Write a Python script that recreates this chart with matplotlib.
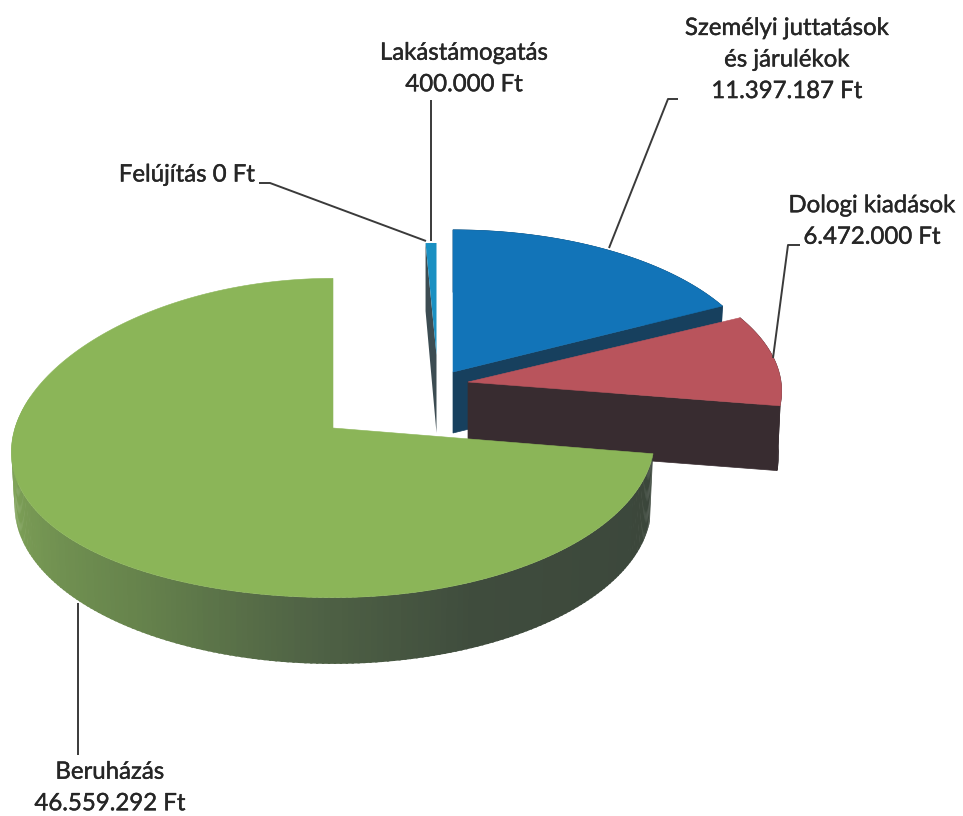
import numpy as np
import matplotlib
matplotlib.use("Agg")
import matplotlib.pyplot as plt
import matplotlib.patheffects as pe
from matplotlib.colors import LinearSegmentedColormap
from matplotlib.patches import Polygon

# ---- data (clockwise from 12 o'clock)
categories = ["Személyi juttatások és járulékok", "Dologi kiadások", "Beruházás", "Felújítás", "Lakástámogatás"]
values = [11397187, 6472000, 46559292, 0, 400000]

# ---- labels
label_texts = ["Személyi juttatások\nés járulékok\n11.397.187 Ft", "Dologi kiadások\n6.472.000 Ft",
               "Beruházás\n46.559.292 Ft", "Felújítás 0 Ft", "Lakástámogatás\n400.000 Ft"]

# ---- style / layout, one row per category
apex = [(453, 372), (468, 382), (333, 428), None, (436.5, 355)]
radii = [(310, 151), (313, 147), (321, 159), None, (300, 119)]
depths = [61, 65, 68, None, 78]
left_sag = [0, 0, 14, None, 0]
top_colors = ["#1274b8", "#b9545c", "#8bb558", None, "#1a90c2"]
side_colors = ["#17405e", "#382c30", None, None, "#3c4c52"]
label_pos = [(787, 60), (872, 221.5), (110, 788), (187, 175), (464, 69)]
leaders = [[(678, 99), (668, 99), (609, 248)], [(800, 245), (788, 245), (773, 358)],
           [(78, 755), (78, 603)], [(259, 183), (270, 183), (426, 241)], [(431, 100), (431, 241)]]
green_side = LinearSegmentedColormap.from_list(
    "g", [(0.0, "#3b463b"), (0.30, "#3f4c3d"), (0.45, "#4f6245"), (0.62, "#66834c"),
          (0.85, "#7c9f56"), (1.0, "#83a859")])
PERSP = 0.0625
BOTTOM_SCALE = 0.99
PT = 24 * 72 / 100

plt.rcParams["font.family"] = ["Lato", "DejaVu Sans"]
fig = plt.figure(figsize=(9.63, 8.16), dpi=100, facecolor="white")
ax = fig.add_axes([0, 0, 1, 1])
ax.set_xlim(0, 963)
ax.set_ylim(816, 0)
ax.axis("off")


def rim(i, theta, bottom=False):
    """Project clock-angle theta (deg) on the rim of slice i to picture coords."""
    t = np.radians(theta)
    X, Y = np.sin(t), np.cos(t)
    d = 1 + PERSP * Y
    s = BOTTOM_SCALE if bottom else 1.0
    cx, cy = apex[i]
    rx, ry = radii[i]
    x = cx + s * rx * X / d
    y = cy - s * ry * Y / d + (depths[i] if bottom else 0)
    if not bottom:
        y = y + left_sag[i] * np.where(X < 0, X ** 2, 0)
    return np.column_stack([x, y])


sweeps = 360 * np.array(values) / sum(values)
edges = np.concatenate([[0], np.cumsum(sweeps)])


def draw_slice(i, start, end, z):
    th = np.linspace(start, end, 200)
    cx, cy = apex[i]
    d = depths[i]
    if side_colors[i] is not None:
        wall = np.vstack([rim(i, th), rim(i, th[::-1], True)])
        ax.add_patch(Polygon(wall, fc=side_colors[i], ec=side_colors[i], lw=0.5, zorder=z))
        o, b = rim(i, end), rim(i, end, True)
        ax.add_patch(Polygon([(cx, cy), o[0], b[0], (cx, cy + d)], fc=side_colors[i],
                             ec=side_colors[i], lw=0.5, zorder=z))
    else:
        # shaded outer wall, strip by strip
        n = 260
        tt = np.linspace(start, end, n + 1)
        for a, b in zip(tt[:-1], tt[1:]):
            if a > 285:
                continue
            seg = np.array([a, b + 0.4])
            c = green_side((a - start) / (285 - start))
            ax.add_patch(Polygon(np.vstack([rim(i, seg), rim(i, seg[::-1], True)]),
                                 fc=c, ec="none", zorder=z))
    ax.add_patch(Polygon(np.vstack([[(cx, cy)], rim(i, th)]), fc=top_colors[i],
                         ec=top_colors[i], lw=0.4, zorder=z + 0.5))


# Lakástámogatás: thin slice, its left radial face is the one that shows
i_lak = 4
th_l = np.linspace(edges[4], edges[5], 20)
cx, cy = apex[i_lak]
o = rim(i_lak, edges[4])[0]
ax.add_patch(Polygon([o, o + (0, depths[i_lak] - 10), (cx, cy + depths[i_lak]), (cx, cy)],
                     fc=side_colors[i_lak], ec="none", zorder=1))
ax.add_patch(Polygon(np.vstack([[(cx, cy)], rim(i_lak, th_l)]), fc=top_colors[i_lak],
                     ec="none", zorder=1.5))

draw_slice(0, edges[0], edges[1], 2)
draw_slice(1, edges[1], edges[2], 3)
# the Beruházás face closes up to 12 o'clock in the reference
draw_slice(2, edges[2], edges[5], 4)

for pts in leaders:
    xs, ys = zip(*pts)
    ax.plot(xs, ys, color="#3a3a3a", lw=1.4, zorder=6, solid_capstyle="butt")

for txt, (x, y) in zip(label_texts, label_pos):
    ax.text(x, y, txt, ha="center", va="center", fontsize=PT, color="#262626",
            linespacing=1.62, zorder=7,
            path_effects=[pe.withStroke(linewidth=0.3, foreground="#262626")])

fig.savefig("out.png", dpi=100, facecolor="white")
